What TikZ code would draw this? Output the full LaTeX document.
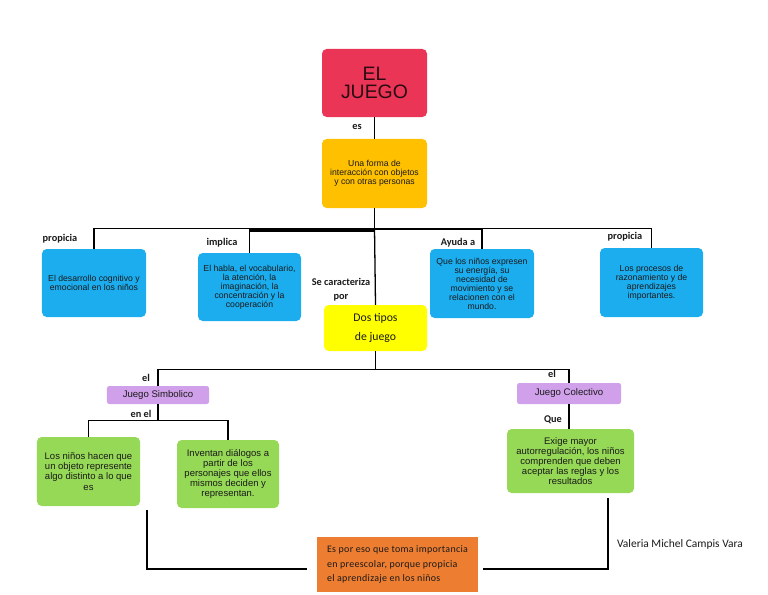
\documentclass[tikz,border=0pt]{standalone}
\usepackage{fontspec}
\setmainfont{Liberation Sans}
\newfontfamily\labelfont{Carlito}
\newfontfamily\concfont[LetterSpace=3]{Carlito}
\usetikzlibrary{positioning}

\definecolor{juegored}{HTML}{EA3556}
\definecolor{formaorange}{HTML}{FFC000}
\definecolor{celeste}{HTML}{1CADEF}
\definecolor{dosyellow}{HTML}{FFFF00}
\definecolor{lila}{HTML}{D0A0EA}
\definecolor{verde}{HTML}{96D957}
\definecolor{naranja}{HTML}{ED7D31}
\definecolor{textdark}{HTML}{1A1A1A}

\begin{document}
\begin{tikzpicture}[x=0.03cm, y=-0.03cm,
        box/.style={rounded corners=4pt, align=center, inner sep=0pt, text=textdark,
                font=\fontsize{7.4}{7.7}\selectfont},
        tag/.style={inner sep=0pt, align=center, text=textdark,
                font=\labelfont\bfseries\fontsize{8.8}{12}\selectfont},
        link/.style={draw=black, line width=1.1pt}]
        \useasboundingbox (0,0) rectangle (768,594);

        % title and first level
        \node[box, fill=juegored, minimum width=3.15cm, minimum height=2.04cm,
                text={rgb,255:red,43;green,11;blue,18}, font=\fontsize{16.6}{15.2}\selectfont]
                (juego) at (374.5,83) {EL\\JUEGO};
        \node[box, fill=formaorange, minimum width=3.15cm, minimum height=2.07cm]
                (forma) at (374.5,173.5) {Una forma de\\interacción con objetos\\y con otras personas};

        % second level
        \node[box, fill=celeste, minimum width=3.12cm, minimum height=2.04cm]
                (desarrollo) at (94,283) {El desarrollo cognitivo y\\emocional en los niños};
        \node[box, fill=celeste, minimum width=3.09cm, minimum height=2.04cm]
                (habla) at (249.5,287) {El habla, el vocabulario,\\la atención, la\\imaginación, la\\concentración y la\\cooperación};
        \node[box, fill=celeste, minimum width=3.12cm, minimum height=2.07cm]
                (ayuda) at (482,283.5) {Que los niños expresen\\su energía, su\\necesidad de\\movimiento y se\\relacionen con el\\mundo.};
        \node[box, fill=celeste, minimum width=3.09cm, minimum height=2.07cm]
                (procesos) at (651.5,282.5) {Los procesos de\\razonamiento y de\\aprendizajes\\importantes.};
        \node[box, fill=dosyellow, minimum width=3.09cm, minimum height=1.38cm,
                font=\labelfont\fontsize{10}{16}\selectfont]
                (dos) at (375.5,328) {Dos tipos\\de juego};

        % kinds of game
        \node[box, fill=lila, rounded corners=2pt, minimum width=3.06cm, minimum height=0.54cm,
                font=\fontsize{8.2}{8.5}\selectfont]
                (simb) at (158,395) {Juego Simbolico};
        \node[box, fill=lila, rounded corners=2pt, minimum width=3.12cm, minimum height=0.63cm,
                font=\fontsize{8.2}{8.5}\selectfont]
                (cole) at (569,393.5) {Juego Colectivo};
        \node[box, fill=verde, minimum width=3.09cm, minimum height=2.07cm,
                font=\fontsize{8.1}{8.6}\selectfont]
                (ninos) at (88.5,471.5) {Los niños hacen que\\un objeto represente\\algo distinto a lo que\\es};
        \node[box, fill=verde, minimum width=3.06cm, minimum height=2.04cm,
                font=\fontsize{8.1}{8.6}\selectfont]
                (inventan) at (228,474) {Inventan diálogos a\\partir de los\\personajes que ellos\\mismos deciden y\\representan.};
        \node[box, fill=verde, minimum width=3.81cm, minimum height=1.92cm,
                font=\fontsize{8.1}{8.6}\selectfont]
                (exige) at (570.5,461) {Exige mayor\\autorregulación, los niños\\comprenden que deben\\aceptar las reglas y los\\resultados};

        % conclusion
        \node[fill=naranja, minimum width=4.83cm, minimum height=1.65cm,
                align=left, text=textdark, font=\concfont\fontsize{8.5}{12.3}\selectfont]
                (concl) at (397.5,564.5) {Es por eso que toma importancia\\en preescolar, porque propicia\\el aprendizaje en los niños};
        \node[inner sep=0pt, text=textdark, font=\labelfont\fontsize{9.8}{11}\selectfont]
                (autora) at (680,544) {Valeria Michel Campis Vara};

        % labels
        \node[tag] (tes) at (357,127) {es};
        \node[tag] (tprop1) at (60,239) {propicia};
        \node[tag] (timpl) at (222,243) {implica};
        \node[tag] (tcarac) at (341,290) {Se caracteriza\\por};
        \node[tag] (tayuda) at (458,243) {Ayuda a};
        \node[tag] (tprop2) at (625,237) {propicia};
        \node[tag] (tel1) at (146,378) {el};
        \node[tag] (tenel) at (141,414) {en el};
        \node[tag] (tel2) at (552,374) {el};
        \node[tag] (tque) at (553,420) {Que};

        % connectors
        \draw[link] (juego.south) -- (forma.north);
        \draw[link] (forma.south) -- ++(0,20) coordinate (bus);
        \draw[link, line width=0.9pt] (desarrollo.north) |- (bus) -| (procesos.north);
        \draw[link] (habla.north) -- (habla.north |- bus);
        \draw[link] (ayuda.north) -- (ayuda.north |- bus);
        \draw[link, line width=2.4pt] ([yshift=-2pt]habla.north |- bus) -- ([yshift=-2pt]bus);
        \draw[link, line width=1.6pt] ([yshift=-1pt]bus) -- ([yshift=-1pt]ayuda.north |- bus);
        \draw[link] (bus) -- (dos.north);

        \draw[link] (dos.south) -- ++(0,18) coordinate (fork) -| (simb.north);
        \draw[link] (fork) -| (cole.north);
        \draw[link] (simb.south) -- ++(0,16) coordinate (split) -| (ninos.north);
        \draw[link] (split) -| (inventan.north);
        \draw[link] (cole.south) -- (cole.south |- exige.north);

        \coordinate (endL) at (147,510);
        \coordinate (endR) at (608,498);
        \draw[link] (endL) |- ([xshift=-8.5pt, yshift=-3.8pt]concl.west);
        \draw[link] (endR) |- ([xshift=4pt, yshift=-3.8pt]concl.east);
\end{tikzpicture}
\end{document}
